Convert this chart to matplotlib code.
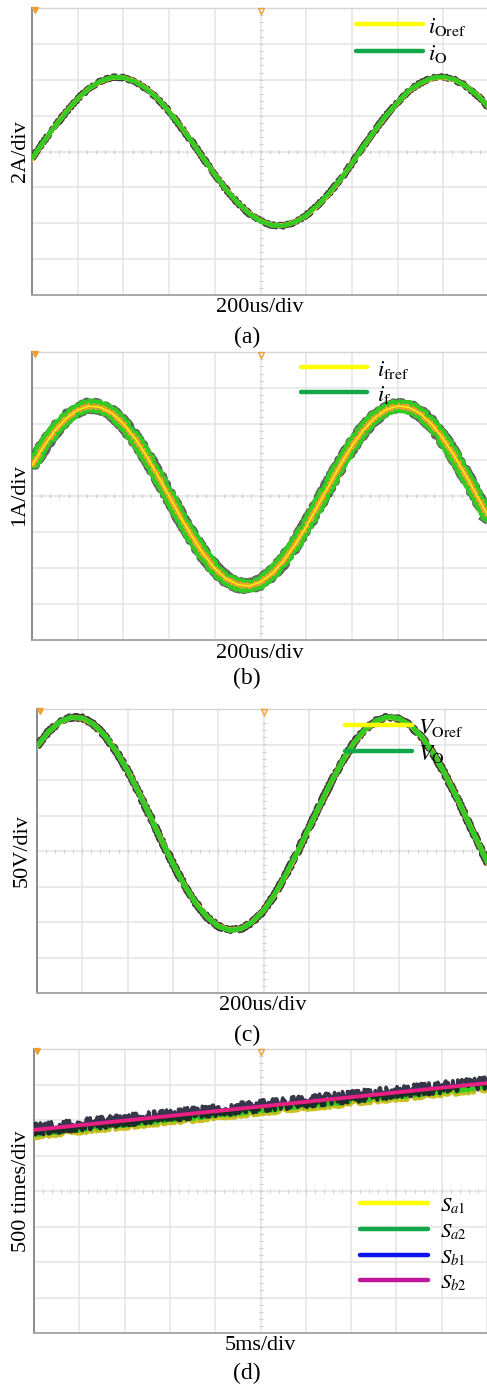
import numpy as np
import matplotlib
matplotlib.use("Agg")
import matplotlib.pyplot as plt
from matplotlib.lines import Line2D

plt.rcParams["font.family"] = ["Liberation Serif", "DejaVu Serif"]
plt.rcParams["mathtext.fontset"] = "stix"

# ---------------------------------------------------------------- data
# time axis in screen divisions (10 divisions across the screen)
t_div = np.linspace(0, 10, 41)

# (a) output current, divisions (2 A/div)
i_oref = [-0.20, 0.26, 0.70, 1.11, 1.47, 1.76, 1.95, 2.06, 2.06, 1.96, 1.76,
          1.48, 1.12, 0.71, 0.27, -0.19, -0.64, -1.06, -1.42, -1.72, -1.93,
          -2.05, -2.06, -1.97, -1.79, -1.51, -1.18, -0.78, -0.33, 0.13, 0.58,
          1.00, 1.36, 1.69, 1.90, 2.04, 2.07, 2.00, 1.82, 1.57, 1.23]
i_o = [-0.18, 0.27, 0.71, 1.10, 1.47, 1.77, 1.96, 2.07, 2.06, 1.95, 1.75,
       1.48, 1.11, 0.70, 0.27, -0.19, -0.65, -1.06, -1.43, -1.73, -1.94,
       -2.06, -2.07, -1.97, -1.78, -1.50, -1.17, -0.78, -0.33, 0.14, 0.58,
       1.01, 1.37, 1.70, 1.91, 2.05, 2.08, 2.00, 1.82, 1.56, 1.22]

# (b) filter current, divisions (1 A/div)
i_fref = [0.85, 1.37, 1.81, 2.16, 2.39, 2.50, 2.46, 2.30, 2.01, 1.61, 1.12,
          0.58, 0.00, -0.58, -1.12, -1.61, -2.01, -2.30, -2.46, -2.50, -2.39,
          -2.16, -1.81, -1.37, -0.85, -0.28, 0.30, 0.87, 1.39, 1.83, 2.17,
          2.40, 2.50, 2.46, 2.29, 1.99, 1.59, 1.10, 0.56, -0.02, -0.60]
i_f = [0.88, 1.38, 1.83, 2.17, 2.40, 2.52, 2.47, 2.31, 2.00, 1.60, 1.11,
       0.57, -0.01, -0.59, -1.13, -1.62, -2.02, -2.31, -2.47, -2.51, -2.40,
       -2.15, -1.80, -1.36, -0.84, -0.27, 0.31, 0.88, 1.40, 1.84, 2.18,
       2.41, 2.51, 2.47, 2.30, 2.00, 1.58, 1.09, 0.55, -0.03, -0.61]

# (c) output voltage, divisions (50 V/div)
v_oref = [2.95, 3.35, 3.63, 3.76, 3.74, 3.57, 3.25, 2.81, 2.27, 1.65, 0.98,
          0.30, -0.35, -0.95, -1.45, -1.85, -2.11, -2.22, -2.19, -2.00, -1.68,
          -1.23, -0.66, -0.04, 0.63, 1.30, 1.95, 2.54, 3.05, 3.42, 3.67,
          3.77, 3.72, 3.53, 3.21, 2.75, 2.19, 1.56, 0.88, 0.20, -0.46]
v_o = [2.96, 3.36, 3.64, 3.77, 3.75, 3.57, 3.25, 2.80, 2.26, 1.64, 0.97,
       0.29, -0.36, -0.96, -1.46, -1.86, -2.12, -2.23, -2.20, -2.01, -1.68,
       -1.22, -0.65, -0.03, 0.64, 1.31, 1.96, 2.55, 3.06, 3.43, 3.68,
       3.78, 3.73, 3.53, 3.20, 2.74, 2.18, 1.55, 0.87, 0.19, -0.47]

# (d) switching counters, divisions (500 times/div), 5 ms/div
t_cnt = [0, 2.5, 5, 7.5, 10]
s_a1 = [1.60, 1.93, 2.26, 2.59, 2.92]
s_a2 = [1.64, 1.97, 2.30, 2.63, 2.96]
s_b1 = [1.73, 2.06, 2.39, 2.72, 3.05]
s_b2 = [1.72, 2.05, 2.38, 2.71, 3.04]

# ---------------------------------------------------------------- style
W, H = 487, 1386
YELLOW = "#ffff00"
GREEN_LEG = "#12a84a"
GREEN_TR = "#33cc22"
ORANGE = "#f0a030"
BLUE = "#0a14f0"
MAGENTA = "#c0189a"
GRID = "#e4e4e4"

fig = plt.figure(figsize=(W / 100, H / 100), dpi=100)


def fx(x):
    return x / W


def fy(y):
    return 1 - y / H


def scope_axes(left, top, right, bottom):
    ax = fig.add_axes([fx(left), fy(bottom), (right - left) / W, (bottom - top) / H])
    ax.set_xlim(0, 10)
    ax.set_ylim(-4, 4)
    ax.set_xticks(np.arange(0, 11))
    ax.set_yticks(np.arange(-4, 5))
    ax.grid(True, color=GRID, lw=1.1, zorder=0)
    ax.set_axisbelow(True)
    ax.tick_params(length=0, labelbottom=False, labelleft=False)
    # graticule marks on the centre cross
    ax.plot(np.arange(0, 10.01, 0.2), np.zeros(51), ls="none", marker="|",
            ms=3.5, mew=0.8, color="#cfcfcf", zorder=1)
    ax.plot(np.full(41, 5.0), np.arange(-4, 4.01, 0.2), ls="none", marker="_",
            ms=3.5, mew=0.8, color="#cfcfcf", zorder=1)
    ax.spines["left"].set_color("#8a8a8a")
    ax.spines["left"].set_linewidth(1.4)
    ax.spines["bottom"].set_color("#a8a8a8")
    ax.spines["bottom"].set_linewidth(1.4)
    ax.spines["top"].set_color("#d6d6d6")
    ax.spines["top"].set_linewidth(1.0)
    ax.spines["right"].set_color("#d6d6d6")
    ax.spines["right"].set_linewidth(1.0)
    # trigger / ground markers
    ax.plot([0.06], [3.94], marker="v", ms=4, color=ORANGE, zorder=6, clip_on=False)
    ax.plot([5.0], [3.92], marker="v", ms=5, mfc="none", mec=ORANGE, mew=1.0,
            zorder=6, clip_on=False)
    return ax


def trace(ax, x, y, color, lw, zorder, alpha=1.0, rough=None):
    """Scope trace; `rough` = (amplitude px, wavelength px) of the hash."""
    line, = ax.plot(x, y, color=color, lw=lw, alpha=alpha, zorder=zorder,
                    solid_joinstyle="round")
    if rough is not None:
        line.set_sketch_params(scale=rough[0], length=rough[1], randomness=2)
    return line


def labels(ylab, ylab_pos, xlab, xlab_pos, tag, tag_pos):
    fig.text(fx(ylab_pos[0]), fy(ylab_pos[1]), ylab, rotation=90,
             ha="center", va="center", fontsize=16)
    fig.text(fx(xlab_pos[0]), fy(xlab_pos[1]), xlab, ha="center", va="center",
             fontsize=16)
    fig.text(fx(tag_pos[0]), fy(tag_pos[1]), tag, ha="center", va="center",
             fontsize=17)


def legend(entries, x0, x1, tx, ys, size, lw=3.2):
    for (label, color), y in zip(entries, ys):
        fig.add_artist(Line2D([fx(x0), fx(x1)], [fy(y), fy(y)], color=color,
                              lw=lw, solid_capstyle="round",
                              transform=fig.transFigure))
        fig.text(fx(tx), fy(y + 3), label, ha="left", va="center", fontsize=size)


# ---------------------------------------------------------------- (a)
ax = scope_axes(32, 8, 489, 295)
trace(ax, t_div, i_o, "#111111", 3.6, 3, alpha=0.8, rough=(1.6, 2))
trace(ax, t_div, i_oref, "#f0c020", 3.4, 3)
trace(ax, t_div, i_o, GREEN_TR, 2.6, 4, rough=(0.8, 3))
labels("2A/div", (21, 151), "200us/div", (260, 307), "(a)", (247, 337))
legend([(r"$i_{\mathrm{Oref}}$", YELLOW), (r"$i_{\mathrm{O}}$", GREEN_LEG)],
       356, 423, 428, [24, 51], 16.5)

# ---------------------------------------------------------------- (b)
ax = scope_axes(32, 352, 489, 640)
trace(ax, t_div, i_f, "#222222", 6.5, 3, alpha=0.7, rough=(4.0, 3))
trace(ax, t_div, i_f, GREEN_TR, 5.5, 3, rough=(3.5, 4))
trace(ax, t_div, i_fref, ORANGE, 2.2, 4, rough=(2.0, 4))
trace(ax, t_div, i_fref, YELLOW, 0.9, 4)
labels("1A/div", (20, 495), "200us/div", (260, 654), "(b)", (247, 678))
legend([(r"$i_{\mathrm{fref}}$", YELLOW), (r"$i_{\mathrm{f}}$", GREEN_LEG)],
       301, 367, 377, [367, 392], 16.5)

# ---------------------------------------------------------------- (c)
ax = scope_axes(37, 709, 490, 993)
trace(ax, t_div, v_o, "#111111", 4.0, 3, alpha=0.8, rough=(1.8, 2))
trace(ax, t_div, v_oref, "#f0c020", 3.6, 3)
trace(ax, t_div, v_o, GREEN_TR, 2.8, 4, rough=(0.9, 3))
labels("50V/div", (22, 851), "200us/div", (263, 1005), "(c)", (247, 1035))
legend([(r"$V_{\mathrm{Oref}}$", YELLOW), (r"$V_{\mathrm{O}}$", GREEN_LEG)],
       345, 412, 418, [725, 751], 16.5)

# ---------------------------------------------------------------- (d)
ax = scope_axes(34, 1049, 487, 1333)
trace(ax, t_cnt, s_a1, "#c8c020", 4.0, 3, rough=(3.5, 2))
trace(ax, t_cnt, s_a2, GREEN_TR, 2.5, 3, rough=(3.0, 2))
trace(ax, t_cnt, s_b1, "#14142a", 2.6, 3, alpha=0.85, rough=(6.0, 1.5))
trace(ax, t_cnt, s_b1, BLUE, 2.2, 4)
trace(ax, t_cnt, s_b2, "#e8207f", 2.8, 5)
labels("500 times/div", (22, 1191), "5ms/div", (260, 1345), "(d)", (247, 1373))
legend([(r"$S_{a1}$", YELLOW), (r"$S_{a2}$", GREEN_LEG),
        (r"$S_{b1}$", BLUE), (r"$S_{b2}$", MAGENTA)],
       360, 428, 440, [1203, 1229, 1255, 1280], 15)

fig.savefig("out.png", dpi=100)
